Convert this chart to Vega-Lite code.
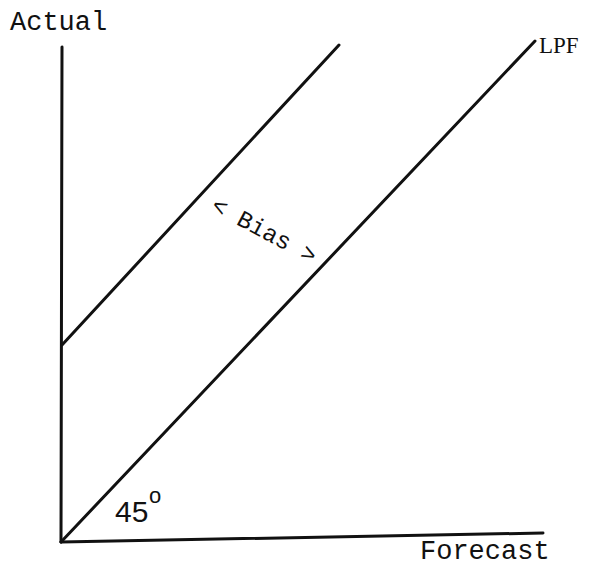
{
  "$schema": "https://vega.github.io/schema/vega-lite/v6.json",
  "width": 589,
  "height": 568,
  "autosize": {"type": "fit", "contains": "padding"},
  "padding": 0,
  "background": "white",
  "config": {"view": {"stroke": null}},
  "datasets": {
    "segments": [
      {"seg": "yaxis", "ord": 0, "x": 0, "y": 0},
      {"seg": "yaxis", "ord": 1, "x": 1, "y": 495},
      {"seg": "xaxis", "ord": 0, "x": 0, "y": 0},
      {"seg": "xaxis", "ord": 1, "x": 482, "y": 9},
      {"seg": "LPF", "ord": 0, "x": 0, "y": 0},
      {"seg": "LPF", "ord": 1, "x": 474, "y": 501},
      {"seg": "biased", "ord": 0, "x": 1, "y": 197},
      {"seg": "biased", "ord": 1, "x": 278, "y": 497}
    ],
    "labels": [
      {"label": "Actual", "x": -51, "y": 512},
      {"label": "Forecast", "x": 359, "y": -17}
    ]
  },
  "layer": [
    {
      "data": {"name": "segments"},
      "mark": {"type": "line", "color": "#111111", "strokeWidth": 3, "strokeCap": "round"},
      "encoding": {
        "x": {"field": "x", "type": "quantitative", "scale": {"domain": [-61, 528], "nice": false, "zero": false}, "axis": null},
        "y": {"field": "y", "type": "quantitative", "scale": {"domain": [-26, 542], "nice": false, "zero": false}, "axis": null},
        "detail": {"field": "seg", "type": "nominal"},
        "order": {"field": "ord", "type": "quantitative"}
      }
    },
    {
      "data": {"name": "labels"},
      "mark": {"type": "text", "font": "Liberation Mono", "fontSize": 27, "align": "left", "baseline": "alphabetic", "color": "#111111"},
      "encoding": {
        "x": {"field": "x", "type": "quantitative", "scale": {"domain": [-61, 528], "nice": false, "zero": false}, "axis": null},
        "y": {"field": "y", "type": "quantitative", "scale": {"domain": [-26, 542], "nice": false, "zero": false}, "axis": null},
        "text": {"field": "label"}
      }
    },
    {
      "data": {"values": [{"label": "LPF", "x": 478, "y": 489}]},
      "mark": {"type": "text", "font": "Liberation Serif", "fontSize": 23, "align": "left", "baseline": "alphabetic", "color": "#111111"},
      "encoding": {
        "x": {"field": "x", "type": "quantitative", "scale": {"domain": [-61, 528], "nice": false, "zero": false}, "axis": null},
        "y": {"field": "y", "type": "quantitative", "scale": {"domain": [-26, 542], "nice": false, "zero": false}, "axis": null},
        "text": {"field": "label"}
      }
    },
    {
      "data": {"values": [{"label": "45", "x": 54, "y": 20}]},
      "mark": {"type": "text", "font": "Liberation Sans", "fontSize": 30, "align": "left", "baseline": "alphabetic", "color": "#111111"},
      "encoding": {
        "x": {"field": "x", "type": "quantitative", "scale": {"domain": [-61, 528], "nice": false, "zero": false}, "axis": null},
        "y": {"field": "y", "type": "quantitative", "scale": {"domain": [-26, 542], "nice": false, "zero": false}, "axis": null},
        "text": {"field": "label"}
      }
    },
    {
      "data": {"values": [{"label": "o", "x": 88, "y": 39}]},
      "mark": {"type": "text", "font": "Liberation Sans", "fontSize": 22, "align": "left", "baseline": "alphabetic", "color": "#111111"},
      "encoding": {
        "x": {"field": "x", "type": "quantitative", "scale": {"domain": [-61, 528], "nice": false, "zero": false}, "axis": null},
        "y": {"field": "y", "type": "quantitative", "scale": {"domain": [-26, 542], "nice": false, "zero": false}, "axis": null},
        "text": {"field": "label"}
      }
    },
    {
      "data": {"values": [{"label": "< Bias >", "x": 203, "y": 311}]},
      "mark": {"type": "text", "font": "Liberation Mono", "fontSize": 24, "align": "center", "baseline": "middle", "angle": 28, "color": "#111111"},
      "encoding": {
        "x": {"field": "x", "type": "quantitative", "scale": {"domain": [-61, 528], "nice": false, "zero": false}, "axis": null},
        "y": {"field": "y", "type": "quantitative", "scale": {"domain": [-26, 542], "nice": false, "zero": false}, "axis": null},
        "text": {"field": "label"}
      }
    }
  ]
}
